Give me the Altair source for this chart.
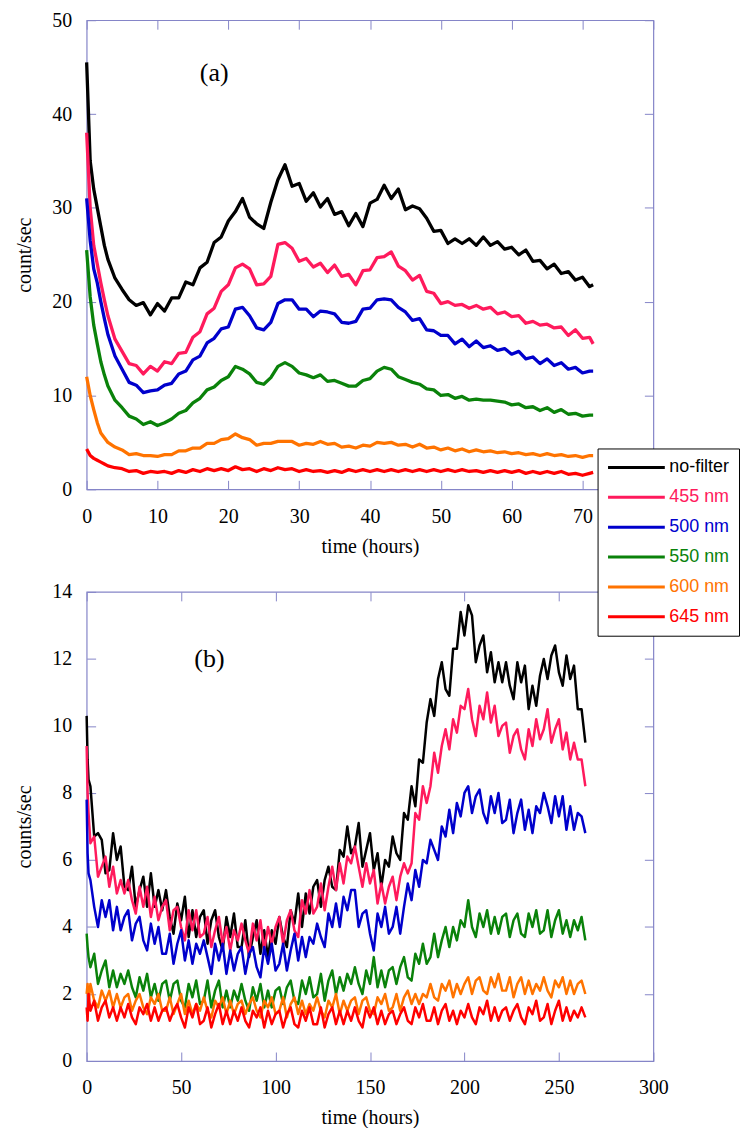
import altair as alt
import pandas as pd

SERIES = ["no-filter", "455 nm", "500 nm", "550 nm", "600 nm", "645 nm"]
COLORS = ["#000000", "#ff1a5c", "#0000cc", "#0a820a", "#ff7300", "#ff0000"]
FRAME = "#8585c8"

# ---------------- panel (a) ----------------
TIME_A = [0, 0.5, 1, 1.5, 2, 2.5] + list(range(3, 72)) + [71.5]

A_NOFILTER = [
    45.5, 35.0, 32.0, 30.0, 28.0, 26.0,
    24.5, 22.5, 21.3, 20.2, 19.6, 19.9, 18.6, 19.8, 19.0, 20.4,
    20.4, 22.1, 21.8, 23.6, 24.2, 26.3, 26.9, 28.6, 29.6, 31.0,
    29.0, 28.3, 27.8, 30.6, 33.0, 34.6, 32.3, 32.6, 30.7, 31.6,
    30.1, 31.0, 29.3, 29.6, 28.1, 29.4, 28.0, 30.5, 30.9, 32.4,
    31.0, 32.0, 29.8, 30.2, 29.9, 28.9, 27.5, 27.6, 26.2, 26.7,
    26.2, 26.7, 26.0, 26.9, 26.0, 26.4, 25.6, 25.8, 25.0, 25.5,
    24.3, 24.4, 23.5, 24.0, 23.0, 23.2, 22.3, 22.6, 21.6,
    21.8]
A_455 = [
    38.0, 30.0, 26.0, 24.0, 22.0, 20.2,
    18.5, 16.0, 14.7, 13.4, 13.2, 12.3, 13.1, 12.6, 13.6, 13.4,
    14.5, 14.6, 16.2, 16.8, 18.7, 19.3, 21.1, 21.8, 23.6, 24.0,
    23.5, 21.8, 21.9, 22.7, 26.1, 26.3, 25.7, 24.3, 24.6, 23.7,
    24.1, 23.1, 23.9, 22.7, 22.9, 21.8, 23.3, 23.4, 24.7, 24.8,
    25.3, 23.8, 23.3, 22.3, 22.8, 21.1, 20.9, 19.8, 20.0, 19.6,
    19.7, 19.3, 19.6, 19.2, 19.4, 18.7, 18.9, 18.4, 18.5, 17.7,
    17.9, 17.5, 17.6, 17.2, 17.3, 16.4, 17.0, 16.1, 16.2,
    15.5]
A_500 = [
    31.0, 26.5, 23.5, 22.0, 20.0, 18.2,
    16.5, 14.2, 12.8, 11.4, 11.1, 10.3, 10.5, 10.6, 11.1, 11.3,
    12.3, 12.6, 13.8, 14.2, 15.6, 16.1, 17.1, 17.3, 19.2, 19.4,
    18.5, 17.2, 17.0, 17.8, 19.8, 20.2, 20.2, 19.2, 19.2, 18.4,
    19.0, 18.9, 18.7, 17.8, 17.7, 17.9, 19.2, 19.3, 20.2, 20.3,
    20.2, 19.4, 18.9, 18.0, 18.2, 17.0, 16.9, 16.4, 16.4, 15.5,
    16.0, 15.2, 15.8, 15.1, 15.3, 14.8, 15.0, 14.4, 14.7, 13.9,
    14.1, 13.4, 13.9, 13.2, 13.5, 12.8, 13.0, 12.4, 12.6,
    12.6]
A_550 = [
    25.5, 20.5, 17.5, 15.5, 13.6, 12.2,
    11.0, 9.5, 8.7, 7.8, 7.5, 6.9, 7.2, 6.8, 7.1, 7.5,
    8.1, 8.4, 9.2, 9.7, 10.6, 10.9, 11.6, 12.0, 13.1, 12.8,
    12.3, 11.4, 11.2, 11.9, 13.1, 13.5, 13.1, 12.4, 12.2, 11.9,
    12.2, 11.5, 11.6, 11.3, 11.0, 11.0, 11.6, 11.8, 12.6, 13.0,
    12.8, 12.0, 11.7, 11.4, 11.2, 10.7, 10.6, 10.0, 10.1, 9.7,
    9.9, 9.5, 9.6, 9.5, 9.5, 9.4, 9.3, 9.0, 9.1, 8.7,
    8.8, 8.4, 8.7, 8.2, 8.5, 8.0, 8.1, 7.8, 7.9,
    7.9]
A_600 = [
    12.0, 10.0, 8.5, 7.1, 6.0, 5.5,
    5.0, 4.5, 4.2, 3.7, 3.8, 3.6, 3.6, 3.5, 3.7, 3.7,
    4.1, 4.1, 4.4, 4.4, 4.9, 4.9, 5.3, 5.4, 5.9, 5.5,
    5.3, 4.7, 4.9, 4.9, 5.1, 5.1, 5.1, 4.7, 4.9, 4.8,
    5.1, 4.8, 4.9, 4.5, 4.6, 4.4, 4.7, 4.6, 5.0, 4.9,
    5.0, 4.7, 4.8, 4.5, 4.8, 4.4, 4.5, 4.2, 4.4, 4.1,
    4.3, 4.0, 4.2, 4.0, 4.1, 3.9, 4.0, 3.8, 3.9, 3.7,
    3.8, 3.6, 3.8, 3.6, 3.7, 3.5, 3.6, 3.4, 3.6,
    3.6]
A_645 = [
    4.3, 3.6, 3.3, 3.1, 2.9, 2.7,
    2.5, 2.3, 2.2, 1.9, 2.0, 1.7, 1.9, 1.8, 1.9, 1.7,
    2.0, 1.8, 2.1, 1.9, 2.2, 2.0, 2.2, 2.0, 2.4, 2.1,
    2.2, 1.9, 2.2, 2.0, 2.3, 2.1, 2.2, 1.9, 2.1, 1.9,
    2.0, 1.8, 2.0, 1.8, 2.1, 1.9, 2.1, 1.9, 2.1, 1.9,
    2.1, 1.9, 2.1, 1.9, 2.1, 1.9, 2.1, 1.9, 2.1, 1.9,
    2.1, 1.9, 2.0, 1.8, 2.0, 1.8, 2.0, 1.8, 2.0, 1.7,
    1.9, 1.7, 1.9, 1.7, 1.9, 1.6, 1.7, 1.5, 1.7,
    1.8]

# ---------------- panel (b) ----------------
TIME_B = [0, 0.5, 1] + list(range(2, 265, 2))

B_NOFILTER = [
    10.3, 9.0, 8.4,
    8.2, 6.7, 6.8, 6.6, 5.6, 5.7, 6.8, 6.0, 6.4, 5.2,
    5.1, 5.8, 4.6, 5.1, 5.5, 4.6, 5.6, 4.6, 5.1, 4.5,
    5.1, 4.3, 3.8, 4.7, 4.2, 4.9, 3.7, 4.5, 3.7, 4.3,
    4.5, 3.5, 4.2, 4.5, 3.7, 3.3, 4.3, 3.7, 4.4, 3.4,
    3.4, 4.2, 3.1, 3.7, 4.2, 3.2, 3.9, 3.1, 3.9, 3.5,
    4.3, 3.7, 3.4, 4.5, 4.1, 5.0, 4.0, 5.0, 4.4, 5.2,
    5.4, 4.6, 5.4, 5.8, 5.2, 5.1, 6.3, 6.1, 7.0, 6.2,
    6.4, 7.1, 5.8, 6.3, 6.8, 5.7, 6.2, 5.2, 6.0, 5.8,
    6.7, 6.2, 6.0, 7.4, 7.2, 8.2, 7.6, 9.0, 8.9, 10.1,
    10.8, 10.3, 11.4, 11.9, 11.1, 10.9, 12.3, 12.3, 13.4, 12.7,
    13.6, 13.3, 11.9, 12.4, 12.7, 11.6, 12.2, 11.3, 11.9, 11.3,
    11.9, 11.2, 10.8, 11.9, 11.3, 11.8, 10.5, 11.2, 10.6, 11.5,
    12.0, 11.4, 12.1, 12.4, 11.6, 11.2, 12.1, 11.4, 11.8, 10.5,
    10.5, 9.5]
B_455 = [
    9.4, 8.0, 7.4,
    6.5, 6.7, 5.5, 5.8, 6.1, 5.2, 5.8, 5.0, 5.4, 5.0,
    5.4, 4.8, 4.4, 5.2, 4.6, 5.2, 4.3, 4.9, 4.2, 4.6,
    4.8, 3.9, 4.5, 4.6, 4.0, 3.6, 4.5, 3.9, 4.5, 3.7,
    3.8, 4.3, 3.4, 3.9, 4.3, 3.5, 4.0, 3.3, 3.9, 3.6,
    4.1, 3.6, 3.2, 4.1, 3.6, 4.2, 3.3, 4.0, 3.5, 4.0,
    4.3, 3.5, 4.2, 4.5, 3.9, 3.7, 4.8, 4.4, 5.1, 4.4,
    4.6, 5.3, 4.5, 5.2, 5.8, 5.1, 5.9, 5.3, 6.1, 5.9,
    6.4, 5.8, 5.2, 5.9, 5.3, 5.7, 4.7, 5.3, 4.7, 5.2,
    5.5, 4.8, 5.5, 5.9, 5.6, 5.9, 7.4, 7.2, 8.2, 7.7,
    8.2, 9.2, 8.6, 9.4, 9.9, 9.3, 10.2, 9.8, 10.6, 10.5,
    11.1, 10.2, 9.7, 10.6, 10.2, 11.0, 10.1, 10.6, 9.7, 10.0,
    10.1, 9.2, 9.7, 9.9, 9.3, 9.0, 9.9, 9.4, 10.2, 9.6,
    9.9, 10.5, 9.5, 9.9, 10.2, 9.3, 9.8, 9.0, 9.5, 9.0,
    9.0, 8.2]
B_500 = [
    7.8, 6.2, 5.6,
    5.4, 4.6, 4.0, 4.8, 4.3, 4.8, 3.9, 4.6, 3.9, 4.3,
    4.5, 3.6, 4.1, 4.3, 3.6, 3.3, 4.1, 3.5, 4.0, 3.2,
    3.2, 3.8, 2.9, 3.5, 3.9, 3.0, 3.6, 2.9, 3.5, 3.2,
    3.6, 3.1, 2.6, 3.5, 3.0, 3.5, 2.6, 3.3, 2.7, 3.2,
    3.4, 2.6, 3.2, 3.4, 2.8, 2.5, 3.4, 2.9, 3.5, 2.7,
    2.9, 3.5, 2.7, 3.3, 3.8, 3.0, 3.7, 3.1, 3.7, 3.5,
    4.1, 3.7, 3.4, 4.4, 4.0, 4.7, 4.0, 4.9, 4.5, 5.1,
    5.1, 4.0, 4.4, 4.5, 3.8, 3.3, 4.4, 4.0, 4.6, 3.8,
    4.0, 4.6, 3.8, 4.6, 5.3, 4.8, 5.7, 5.2, 6.0, 5.9,
    6.6, 6.3, 6.0, 7.0, 6.7, 7.5, 6.8, 7.7, 7.3, 8.0,
    8.2, 7.4, 7.9, 8.1, 7.4, 7.1, 7.9, 7.4, 8.0, 7.1,
    7.2, 7.8, 6.8, 7.4, 7.8, 6.9, 7.5, 6.8, 7.6, 7.4,
    8.0, 7.6, 7.1, 7.9, 7.3, 7.9, 6.9, 7.6, 6.9, 7.4,
    7.3, 6.8]
B_550 = [
    3.8, 3.4, 3.1,
    2.8, 3.2, 2.3, 2.7, 3.0, 2.2, 2.7, 2.2, 2.6, 2.3,
    2.7, 2.2, 1.9, 2.5, 2.1, 2.6, 1.9, 2.3, 1.8, 2.3,
    2.4, 1.8, 2.3, 2.4, 1.8, 1.6, 2.3, 1.9, 2.4, 1.7,
    1.8, 2.4, 1.6, 2.1, 2.4, 1.6, 2.1, 1.6, 2.1, 1.8,
    2.3, 1.8, 1.5, 2.2, 1.8, 2.3, 1.6, 2.1, 1.6, 2.1,
    2.2, 1.7, 2.2, 2.4, 1.8, 1.7, 2.4, 2.0, 2.5, 1.9,
    2.0, 2.6, 1.8, 2.4, 2.7, 2.0, 2.5, 2.1, 2.6, 2.3,
    2.8, 2.3, 2.0, 2.7, 2.3, 3.1, 2.2, 2.7, 2.2, 2.7,
    2.8, 2.3, 2.8, 3.1, 2.5, 2.4, 3.2, 2.9, 3.5, 2.9,
    3.1, 3.8, 3.1, 3.6, 4.0, 3.4, 4.0, 3.6, 4.2, 4.0,
    4.8, 4.0, 3.7, 4.4, 4.0, 4.5, 3.8, 4.3, 3.8, 4.3,
    4.4, 3.7, 4.2, 4.4, 3.8, 3.7, 4.4, 4.0, 4.5, 3.8,
    3.9, 4.5, 3.7, 4.2, 4.5, 3.8, 4.2, 3.7, 4.2, 3.9,
    4.3, 3.6]
B_600 = [
    2.0, 2.3, 1.7,
    2.3, 1.8, 1.6, 2.1, 1.8, 2.1, 1.6, 2.0, 1.6, 1.9,
    2.0, 1.5, 1.8, 2.0, 1.6, 1.4, 1.9, 1.7, 2.0, 1.5,
    1.5, 1.9, 1.4, 1.7, 2.0, 1.4, 1.8, 1.4, 1.7, 1.5,
    1.9, 1.5, 1.3, 1.8, 1.6, 1.9, 1.4, 1.8, 1.4, 1.7,
    1.8, 1.4, 1.7, 1.9, 1.5, 1.3, 1.8, 1.6, 1.9, 1.4,
    1.5, 1.9, 1.3, 1.7, 1.9, 1.4, 1.8, 1.4, 1.7, 1.5,
    1.9, 1.5, 1.3, 1.8, 1.6, 2.0, 1.4, 1.8, 1.5, 1.8,
    1.9, 1.4, 1.8, 1.9, 1.5, 1.4, 1.9, 1.7, 2.0, 1.5,
    1.6, 2.0, 1.5, 1.9, 2.1, 1.7, 2.0, 1.7, 2.0, 1.9,
    2.3, 1.9, 1.8, 2.3, 2.1, 2.4, 1.9, 2.3, 2.0, 2.3,
    2.5, 2.0, 2.4, 2.5, 2.1, 2.0, 2.5, 2.2, 2.6, 2.1,
    2.1, 2.5, 1.9, 2.3, 2.5, 2.0, 2.4, 2.0, 2.3, 2.1,
    2.5, 2.1, 1.9, 2.4, 2.2, 2.5, 2.0, 2.4, 2.0, 2.3,
    2.4, 2.0]
B_645 = [
    1.6, 1.2, 2.0,
    1.5, 1.8, 1.2, 1.6, 1.8, 1.3, 1.6, 1.2, 1.6, 1.3,
    1.7, 1.3, 1.1, 1.6, 1.4, 1.7, 1.2, 1.6, 1.2, 1.5,
    1.6, 1.2, 1.5, 1.7, 1.3, 1.0, 1.6, 1.3, 1.7, 1.1,
    1.2, 1.6, 1.0, 1.4, 1.7, 1.1, 1.5, 1.1, 1.5, 1.2,
    1.6, 1.2, 1.0, 1.5, 1.3, 1.6, 1.0, 1.5, 1.1, 1.4,
    1.5, 1.0, 1.4, 1.6, 1.1, 1.0, 1.5, 1.2, 1.6, 1.1,
    1.1, 1.6, 1.0, 1.4, 1.6, 1.1, 1.5, 1.1, 1.5, 1.2,
    1.6, 1.2, 1.0, 1.6, 1.3, 1.6, 1.1, 1.5, 1.1, 1.4,
    1.5, 1.1, 1.4, 1.6, 1.2, 1.1, 1.6, 1.3, 1.7, 1.2,
    1.2, 1.6, 1.1, 1.5, 1.7, 1.2, 1.5, 1.1, 1.5, 1.3,
    1.7, 1.3, 1.1, 1.6, 1.4, 1.8, 1.2, 1.6, 1.2, 1.5,
    1.6, 1.2, 1.5, 1.7, 1.3, 1.1, 1.6, 1.4, 1.8, 1.2,
    1.3, 1.7, 1.1, 1.5, 1.8, 1.2, 1.6, 1.2, 1.5, 1.3,
    1.6, 1.3]

# axis ticks and panel labels
A_XTICKS = [0, 10, 20, 30, 40, 50, 60, 70, 80]
A_YTICKS = [0, 10, 20, 30, 40, 50]
B_XTICKS = [0, 50, 100, 150, 200, 250, 300]
B_YTICKS = [0, 2, 4, 6, 8, 10, 12, 14]
A_LABEL = {"x": [18], "y": [44.4], "label": ["(a)"]}
B_LABEL = {"x": [65], "y": [12.0], "label": ["(b)"]}


def long_frame(times, arrays):
    rows = []
    for name, vals in zip(SERIES, arrays):
        assert len(vals) == len(times), (name, len(vals), len(times))
        for t, v in zip(times, vals):
            rows.append({"time": t, "value": v, "series": name})
    return pd.DataFrame(rows)


df_a = long_frame(TIME_A, [A_NOFILTER, A_455, A_500, A_550, A_600, A_645])
df_b = long_frame(TIME_B, [B_NOFILTER, B_455, B_500, B_550, B_600, B_645])

W, H = 569, 471
SERIF = "Liberation Serif"

label_color_expr = " : ".join(
    f"datum.label === '{s}' ? '{c}'" for s, c in zip(SERIES, COLORS)
) + " : 'black'"

legend = alt.Legend(
    title=None, orient="none", direction="vertical",
    legendX=513, legendY=430,
    symbolType="stroke", symbolSize=3249, symbolStrokeWidth=3,
    clipHeight=20, rowPadding=10,
    labelFont="Liberation Sans", labelFontSize=18, labelLimit=0,
    labelColor=alt.ExprRef(label_color_expr),
    strokeColor="black", fillColor="white", padding=9, labelOffset=3,
)
color = alt.Color("series:N", scale=alt.Scale(domain=SERIES, range=COLORS), legend=legend)


def main_axis(orient, ticks, title, pad, tpad):
    return alt.Axis(
        orient=orient, values=ticks, offset=-9, tickSize=9, tickColor=FRAME,
        tickWidth=1, domain=False, grid=False, labelFont=SERIF, labelFontSize=20,
        labelColor="black", labelPadding=pad, labelFlush=False, labelOverlap=False,
        title=title, titleFont=SERIF, titleFontSize=20, titleFontWeight="normal",
        titleColor="black", titlePadding=tpad,
    )


def mirror_axis(orient, ticks):
    return alt.Axis(
        orient=orient, values=ticks, offset=-9, tickSize=9, tickColor=FRAME,
        tickWidth=1, domain=False, grid=False, labels=False, title=None,
        minExtent=0, maxExtent=0,
    )


def panel(df, xticks, yticks, xdom, ydom, ytitle, lab, sw):
    xs = alt.Scale(domain=xdom, nice=False, zero=False)
    ys = alt.Scale(domain=ydom, nice=False, zero=False)
    layers = []
    for i, s in enumerate(SERIES):
        layers.append(
            alt.Chart(df)
            .transform_filter(alt.datum.series == s)
            .mark_line(strokeWidth=sw, strokeJoin="round")
            .encode(
                x=alt.X("time:Q", scale=xs,
                        axis=main_axis("bottom", xticks, "time (hours)", 17, 10) if i == 0 else None),
                y=alt.Y("value:Q", scale=ys,
                        axis=main_axis("left", yticks, ytitle, 15, 17) if i == 0 else None),
                color=color,
            )
        )
    text = alt.Chart(pd.DataFrame(lab)).mark_text(
        font=SERIF, fontSize=26, color="black", align="center", baseline="middle"
    ).encode(
        x=alt.X("x:Q", scale=xs, axis=mirror_axis("top", xticks)),
        y=alt.Y("y:Q", scale=ys, axis=mirror_axis("right", yticks)),
        text="label:N",
    )
    return alt.layer(*layers, text).resolve_axis(x="independent", y="independent").properties(
        width=W, height=H
    )


pa = panel(df_a, A_XTICKS, A_YTICKS, [0, 80], [0, 50], "count/sec", A_LABEL, 3.3)
pb = panel(df_b, B_XTICKS, B_YTICKS, [0, 300], [0, 14], "counts/sec", B_LABEL, 2.5)

chart = (
    alt.vconcat(pa, pb, spacing=24)
    .properties(padding={"left": 14, "top": 7, "right": 0, "bottom": 0}, background="white")
    .configure_view(stroke=FRAME, strokeWidth=1.2)
)

chart.save("out.html", embed_options={"renderer": "svg", "actions": False})
